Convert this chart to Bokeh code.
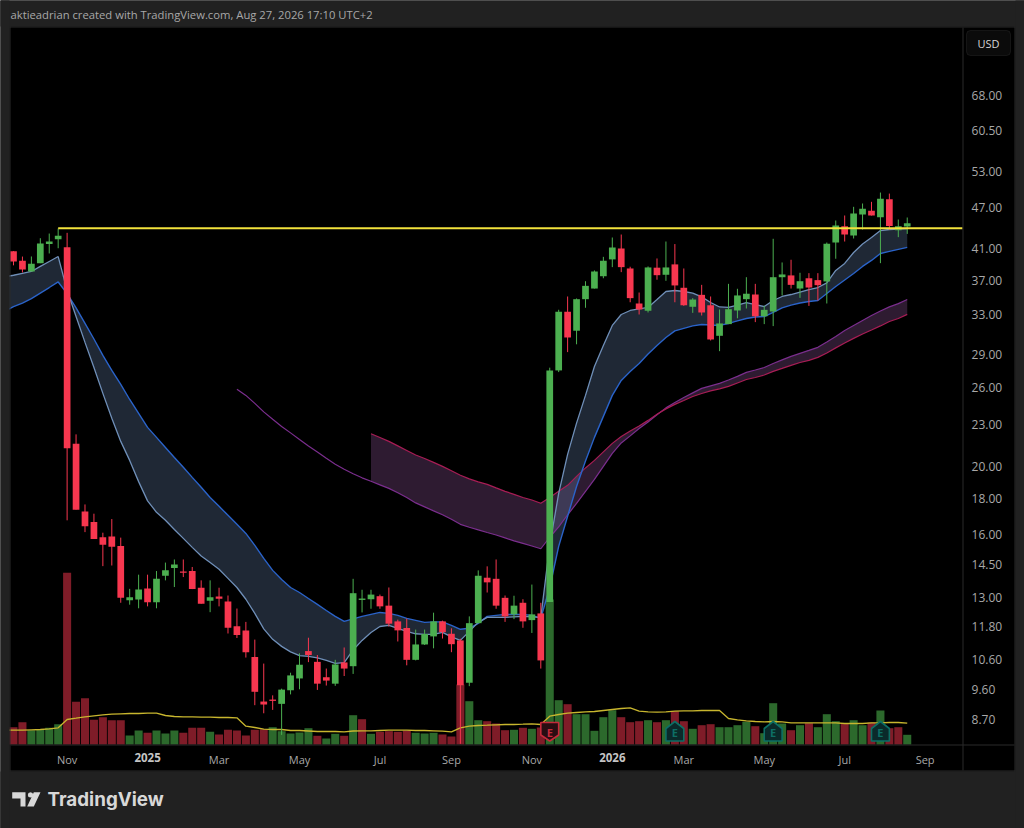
from bokeh.plotting import figure
from bokeh.models import (Range1d, LinearScale, FixedTicker, NumeralTickFormatter, BoxAnnotation,
                          PolyAnnotation, Label, ColumnDataSource)
from bokeh.core.properties import value
from bokeh.embed import file_html
from bokeh.resources import INLINE

# ---------- data ----------
opens = [40.70,39.44,38.07,39.13,41.67,42.33,41.25,21.58,17.27,16.68,15.86,15.90,15.41,12.89,12.92,13.40,12.80,13.97,14.33,14.17,14.19,13.43,12.87,13.05,12.83,11.83,11.66,10.69,9.23,9.29,
         9.16,9.58,9.96,10.90,10.52,10.00,9.79,10.50,10.37,12.90,12.93,13.06,12.66,12.02,11.76,10.59,11.14,11.44,12.02,11.54,11.29,9.82,11.95,13.88,13.83,12.99,12.30,12.78,12.07,12.34,
         12.81,27.48,33.34,31.32,34.75,35.99,37.48,39.62,41.07,38.45,34.26,33.45,38.55,37.66,38.97,36.08,33.89,35.25,34.06,30.80,32.01,33.48,34.75,35.29,32.85,33.37,37.36,37.58,35.99,37.23,
         37.00,36.84,41.88,44.19,42.86,45.93,46.49,45.53,48.31,43.61,44.14]
highs = [40.71,39.99,40.00,42.48,43.14,43.86,43.24,22.26,17.67,17.14,16.10,16.84,15.84,13.38,14.02,14.02,14.19,14.59,14.74,14.74,14.38,13.76,13.76,13.43,13.09,12.54,12.00,11.32,10.46,9.42,
         9.63,10.15,10.82,11.39,10.76,10.29,10.59,11.03,13.83,13.34,13.34,13.13,13.44,12.09,12.13,11.70,11.70,12.37,12.05,11.75,11.35,12.22,14.22,14.41,14.74,13.09,13.08,12.93,13.57,12.78,
         27.73,33.56,35.06,34.83,36.87,38.20,39.95,42.58,43.00,38.67,35.52,38.71,39.74,42.02,41.67,38.45,34.87,36.43,35.06,33.59,36.55,35.96,37.36,36.55,34.01,42.40,39.22,39.57,37.91,37.86,
         37.86,41.88,45.03,45.78,47.11,47.63,47.89,49.38,49.21,45.18,45.48]
lows = [38.85,37.95,38.07,39.13,40.40,41.10,16.77,17.37,16.13,15.77,14.42,14.45,12.78,12.70,12.55,12.63,12.55,13.76,13.46,13.91,13.37,12.74,12.39,12.63,11.55,11.38,10.67,9.12,8.88,8.98,
        8.27,9.45,9.61,10.51,9.59,9.73,9.72,10.04,10.11,12.38,12.53,12.53,11.82,11.25,10.40,10.57,11.12,11.00,11.36,10.86,8.03,9.71,11.95,13.22,12.53,12.00,12.11,11.77,11.57,10.29,
        12.81,27.33,29.19,29.95,33.78,35.99,37.23,38.62,37.99,34.40,33.04,33.26,37.05,36.92,34.40,33.99,33.22,32.93,30.33,29.28,32.01,32.63,33.70,32.22,32.01,31.80,35.18,35.99,34.90,33.99,
        34.60,34.26,39.70,42.02,42.44,43.72,45.78,39.13,43.67,42.63,43.09]
closes = [39.35,38.33,39.05,41.75,42.02,42.81,21.27,17.37,16.45,15.77,15.47,15.37,12.99,13.02,13.35,12.80,13.83,14.23,14.50,14.11,13.37,12.74,13.02,12.95,11.77,11.49,10.86,9.53,9.14,9.25,
          9.60,10.06,10.42,10.76,9.79,9.89,10.43,10.29,13.19,12.96,13.13,12.63,11.93,11.67,10.59,11.14,11.53,12.02,11.60,11.15,9.74,11.95,13.97,13.67,12.66,12.22,12.66,12.02,12.30,10.57,
          27.48,33.34,30.63,34.75,36.31,38.07,39.44,41.21,38.62,34.87,33.59,38.58,37.61,38.58,36.36,34.06,34.71,33.26,30.43,32.08,33.62,35.18,35.38,32.85,33.55,37.36,37.70,36.43,36.87,36.11,
          36.39,41.71,44.29,43.00,46.08,46.80,45.78,48.37,44.24,44.19,44.63]

volume_m = [1.73,2.23,1.43,1.47,1.67,2.03,17.17,4.27,4.63,2.47,2.73,2.43,2.43,0.90,1.40,1.17,1.40,1.10,1.40,1.17,1.67,1.67,1.27,1.00,1.47,1.40,0.90,1.47,1.53,1.73,
            1.33,1.10,1.20,1.63,0.87,0.60,1.07,0.87,2.93,2.53,1.07,1.27,1.33,1.27,1.40,1.17,1.10,1.17,1.00,0.80,6.00,4.33,2.43,2.33,2.10,1.43,1.47,1.67,1.57,1.70,
            14.50,4.43,4.03,3.03,3.03,1.37,2.73,3.43,2.73,2.23,2.33,2.43,2.23,2.43,3.33,2.33,1.57,1.93,2.03,1.73,1.73,1.93,2.27,1.83,1.13,4.13,2.10,1.43,1.93,2.13,
            1.73,3.03,2.33,2.13,2.43,1.93,2.20,3.40,1.63,1.73,0.97]
volume_dir = list("rrggggrrrrrrr" "ggrgggrrrgrrrrrr" "gggggrggrgrg" "rrrrgggrrrgg" "rrrgrgrggr"
                  "gggggrrrgrgrr" "grrggggrgggrgrg" "ggrggrgrrg")
volume_ma_m = [1.43,1.43,1.43,1.47,1.50,1.57,1.67,2.50,2.63,2.77,2.87,2.97,3.03,3.07,3.10,3.10,3.13,3.13,2.90,2.80,2.77,2.77,2.73,2.73,2.70,2.70,2.67,1.83,1.70,1.53,1.50,
               1.50,1.40,1.40,1.35,1.30,1.30,1.30,1.27,1.35,1.37,1.37,1.40,1.43,1.43,1.43,1.40,1.40,1.37,1.33,1.27,1.67,1.83,1.90,1.93,1.97,2.00,2.00,2.03,2.07,2.00,
               2.83,3.00,3.13,3.20,3.27,3.30,3.40,3.50,3.60,3.67,3.33,3.27,3.23,3.27,3.33,3.37,3.37,3.40,3.40,3.40,2.60,2.47,2.37,2.30,2.27,2.30,2.27,2.17,2.17,2.17,
               2.17,2.17,2.17,2.10,2.10,2.10,2.17,2.17,2.20,2.20,2.13]

fast_ema = [37.39,37.60,37.84,38.07,38.71,39.35,39.99,35.76,32.83,30.14,27.75,25.48,23.47,21.75,20.43,19.05,17.88,17.22,16.77,16.27,15.80,15.34,14.91,14.59,14.27,13.85,13.44,12.93,12.34,11.73,11.33,
            11.07,10.87,10.74,10.71,10.66,10.57,10.47,10.49,10.94,11.29,11.59,11.82,11.86,11.75,11.63,11.54,11.52,11.52,11.59,11.42,11.29,11.63,11.98,12.18,12.18,12.18,12.20,12.22,12.20,12.18,
            15.44,18.33,20.84,23.10,25.31,27.84,29.84,31.87,33.04,33.48,33.65,33.82,34.71,35.64,35.76,35.64,35.46,35.01,34.37,33.87,33.82,34.08,34.37,34.14,33.92,34.60,35.06,35.29,35.58,35.87,
            36.11,36.66,38.20,39.09,40.53,41.68,42.58,43.57,43.72,43.79,43.86]
slow_ema = [33.37,33.90,34.31,34.81,35.46,36.11,36.78,35.40,33.76,32.08,30.48,28.87,27.48,26.24,24.97,23.86,22.78,22.04,21.32,20.63,19.97,19.32,18.70,18.08,17.56,17.05,16.55,16.06,15.44,14.79,14.22,
            13.80,13.44,13.22,12.96,12.71,12.46,12.22,12.02,12.12,12.22,12.30,12.38,12.34,12.26,12.14,12.06,11.98,12.00,12.00,11.86,11.71,11.75,11.94,12.22,12.26,12.30,12.30,12.30,12.26,12.14,
            13.44,15.39,17.00,18.75,20.39,22.04,23.62,25.31,26.59,27.39,28.12,29.01,29.84,30.63,31.30,31.56,31.82,31.97,31.92,31.87,32.08,32.35,32.61,32.77,32.82,33.26,33.76,34.08,34.31,34.49,
            34.60,35.40,36.23,37.02,37.82,38.71,39.48,40.40,40.67,40.94,41.21]
long_fast = [25.83,25.31,24.65,23.97,23.39,22.85,22.37,21.89,21.43,21.01,20.57,20.17,19.84,19.55,19.29,
             19.07,18.85,18.63,18.36,18.08,17.76,17.53,17.30,17.08,16.83,16.55,16.39,16.25,16.11,15.98,15.83,15.67,15.54,15.41,15.27,
             15.86,16.41,17.08,17.73,18.45,19.19,20.03,20.91,21.64,22.15,22.70,23.19,23.74,24.29,24.73,25.14,25.52,25.90,26.12,26.33,26.63,26.95,27.30,27.52,27.75,
             28.12,28.45,28.78,29.07,29.35,29.65,30.18,30.74,31.35,31.87,32.40,32.93,33.43,33.88,34.25,34.72]
long_slow = [22.31,22.03,21.75,21.43,21.11,20.80,20.56,20.30,20.03,19.74,19.45,19.22,19.03,18.88,18.66,18.45,18.27,18.08,17.93,17.74,
             18.08,18.45,18.82,19.38,19.93,20.43,21.01,21.61,22.11,22.51,22.88,23.31,23.78,24.21,24.57,24.89,25.22,25.47,25.69,25.86,26.07,26.37,26.67,26.85,27.07,27.39,
             27.66,27.94,28.21,28.40,28.69,29.11,29.60,30.08,30.54,30.99,31.40,31.82,32.29,32.61,33.05]

level_price = 43.9
level_start = 5
month_ticks = [6, 23, 32, 41, 49, 58, 75, 84, 93, 102]
month_names = ["Nov", "Mar", "May", "Jul", "Sep", "Nov", "Mar", "May", "Jul", "Sep"]
year_ticks = [15, 67]
year_names = ["2025", "2026"]
price_ticks = [8.7, 9.6, 10.6, 11.8, 13, 14.5, 16, 18, 20, 23, 26, 29, 33, 37, 41, 47, 53, 60.5, 68]
earnings_idx = [60, 74, 85, 97]
earnings_beat = [False, True, True, True]

# ---------- styling ----------
BG = "#212121"
PANEL = "#000000"
EDGE = "#2b2b2b"
UP, DOWN = "#4caf50", "#f7374f"
VOL_UP, VOL_DOWN = "#2c692c", "#7f1c28"
FONT = "Open Sans"
TXT = "#a8a8a8"

# the plot frame fills the whole canvas; the axes are pinned inside it
PANE_RIGHT = 106.19
PANE_BOTTOM = 7.986
p = figure(width=1024, height=828, output_backend="svg", toolbar_location=None,
           x_range=Range1d(-1.4546, 113.12), y_range=Range1d(6.075, 92.97), y_axis_type="log",
           y_axis_location="right", min_border=0, background_fill_color=PANEL, border_fill_color=PANEL,
           outline_line_color=None)
p.grid.visible = False
p.extra_y_ranges = {"vol": Range1d(-8.4, 74.4)}
p.extra_y_scales = {"vol": LinearScale()}

# axes
ax = p.yaxis[0]
ax.fixed_location = PANE_RIGHT
ax.ticker = FixedTicker(ticks=price_ticks)
ax.formatter = NumeralTickFormatter(format="0.00")
ax.major_tick_in = 0
ax.major_tick_out = 0
ax.major_tick_line_color = None
ax.minor_tick_line_color = None
ax.axis_line_color = None
ax.major_label_text_color = TXT
ax.major_label_text_font = FONT
ax.major_label_text_font_size = "12px"
ax.major_label_standoff = 9

bx = p.xaxis[0]
bx.fixed_location = PANE_BOTTOM
bx.ticker = FixedTicker(ticks=month_ticks)
bx.major_label_overrides = dict(zip(month_ticks, month_names))
bx.major_tick_in = 0
bx.major_tick_out = 0
bx.major_tick_line_color = None
bx.minor_tick_line_color = None
bx.axis_line_color = None
bx.major_label_text_color = TXT
bx.major_label_text_font = FONT
bx.major_label_text_font_size = "11px"
bx.major_label_standoff = 7

idx = list(range(101))
line_idx = list(range(-1, 101))

# volume
vsrc = ColumnDataSource(dict(x=idx, v=volume_m,
                             c=[VOL_UP if d == "g" else VOL_DOWN for d in volume_dir]))
p.vbar(x="x", top="v", bottom=0, width=0.9, fill_color="c", line_color=None, source=vsrc, y_range_name="vol")
p.line(line_idx, volume_ma_m, y_range_name="vol", line_color="#c8b62e", line_width=1.3)

# moving-average clouds
long_start = 100 - len(long_slow) + 1
long_idx = list(range(long_start, 101))
p.varea(x=long_idx, y1=long_slow, y2=long_fast[-len(long_slow):], fill_color="#96589f", fill_alpha=0.31)
p.varea(x=line_idx, y1=fast_ema, y2=slow_ema, fill_color="#6482aa", fill_alpha=0.31)
p.line(list(range(101 - len(long_fast), 101)), long_fast, line_color="#7b2e8e", line_width=1.2)
p.line(long_idx, long_slow, line_color="#a81d55", line_width=1.2)
p.line(line_idx, slow_ema, line_color="#2a63c9", line_width=1.4)
p.line(line_idx, fast_ema, line_color="#6f8fb8", line_width=1.3)

# candles
csrc = ColumnDataSource(dict(x=idx, o=opens, h=highs, l=lows, c=closes,
                             top=[max(a, b) for a, b in zip(opens, closes)],
                             bot=[min(a, b) for a, b in zip(opens, closes)],
                             col=[UP if c >= o else DOWN for o, c in zip(opens, closes)]))
p.segment(x0="x", y0="h", x1="x", y1="l", line_color="col", line_width=1, source=csrc)
p.vbar(x="x", top="top", bottom="bot", width=0.75, fill_color="col", line_color=None, source=csrc)

# horizontal level
p.segment(x0=[level_start], y0=[level_price], x1=[PANE_RIGHT], y1=[level_price], line_color="#f2e23c", line_width=2)

# earnings badges
for i, beat in zip(earnings_idx, earnings_beat):
    if beat:
        xs = [i - 1.0, i - 1.0, i, i + 1.0, i + 1.0]
        ys = [0.35, 1.6, 2.3, 1.6, 0.35]
        fc, lc = "#0a2a2a", "#0d6f65"
    else:
        xs = [i - 1.0, i + 1.0, i + 1.0, i, i - 1.0]
        ys = [2.2, 2.2, 0.95, 0.35, 0.95]
        fc, lc = "#2a0d12", "#c62a3a"
    p.patch(xs, ys, y_range_name="vol", fill_color=fc, line_color=lc, line_width=1.6)
    p.text([i], [1.25], text=["E"], y_range_name="vol", text_color=lc, text_font=value(FONT),
           text_font_style="bold", text_font_size="11px", text_align="center", text_baseline="middle")

def cbox(l, r, t, b, **kw):
    p.add_layout(BoxAnnotation(left=l, right=r, top=t, bottom=b, left_units="canvas", right_units="canvas",
                               top_units="canvas", bottom_units="canvas", **kw))

# grey page strips around the black chart block
for l, r, t, b in [(-2, 1026, -2, 26), (-2, 1026, 771, 830), (-2, 9, -2, 830), (1015, 1026, -2, 830)]:
    cbox(l, r, t, b, fill_color=BG, fill_alpha=1, line_color=None)

# frame lines and currency box
cbox(9, 10, 26, 771, fill_color=EDGE, fill_alpha=1, line_color=None)
cbox(1014, 1015, 26, 771, fill_color=EDGE, fill_alpha=1, line_color=None)
cbox(9, 1015, 26, 27, fill_color=EDGE, fill_alpha=1, line_color=None)
cbox(9, 1015, 770, 771, fill_color=EDGE, fill_alpha=1, line_color=None)
cbox(962, 963, 27, 770, fill_color=EDGE, fill_alpha=1, line_color=None)
cbox(10, 1014, 744, 745, fill_color=EDGE, fill_alpha=1, line_color=None)
cbox(966, 1010, 30, 55, fill_color="#0b0b0b", fill_alpha=1, line_color="#3a3a3a", line_width=1, border_radius=4)
p.add_layout(Label(x=988, y=42.5, x_units="canvas", y_units="canvas", text="USD", text_color="#d6d6d6",
                   text_font=FONT, text_font_size="11px", text_align="center", text_baseline="middle"))

# year labels
for t, name in zip(year_ticks, year_names):
    p.add_layout(Label(x=t, y=757, x_units="data", y_units="canvas", text=name, text_color="#c4c4c4",
                       text_font=FONT, text_font_size="11.5px", text_font_style="bold",
                       text_align="center", text_baseline="middle"))

# header
p.add_layout(Label(x=10, y=14, x_units="canvas", y_units="canvas",
                   text="aktieadrian created with TradingView.com, Aug 27, 2026 17:10 UTC+2", text_color="#a8a8a8",
                   text_font=FONT, text_font_size="11.25px", text_align="left", text_baseline="middle"))

# logo
LOGO = "#d8d8d8"
def poly(xs, ys):
    p.add_layout(PolyAnnotation(xs=xs, ys=ys, xs_units="canvas", ys_units="canvas", fill_color=LOGO,
                                fill_alpha=1, line_color=None))
poly([11.7, 25, 25, 20, 20, 11.7], [791.7, 791.7, 806, 806, 798, 798])
poly([40, 33.3, 26.7, 33.3], [791.7, 806, 806, 791.7])
poly([30, 32, 32.7, 32, 30, 28, 27.3, 28], [791.7, 792.4, 794.4, 796.4, 797, 796.4, 794.4, 792.4])
p.add_layout(Label(x=47, y=799, x_units="canvas", y_units="canvas", text="TradingView", text_color=LOGO,
                   text_font="Inter", text_font_size="18.8px", text_font_style="bold",
                   text_align="left", text_baseline="middle"))

html = file_html(p, INLINE, title="TradingView chart")
html = html.replace("<body>", '<body style="background:#212121">', 1)
open("out.html", "w").write(html)
